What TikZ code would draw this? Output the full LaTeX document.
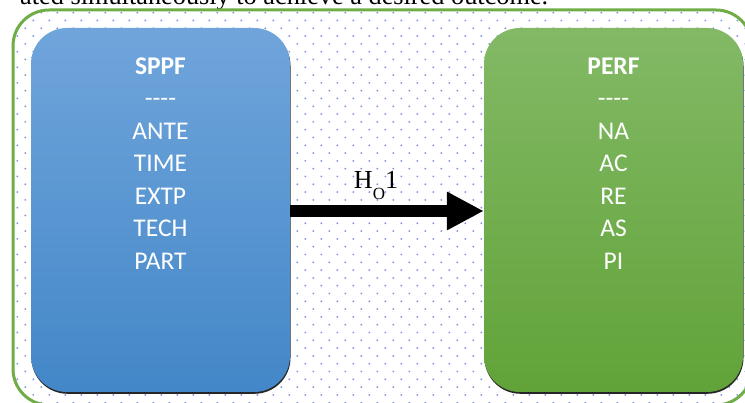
\documentclass[tikz,border=0pt]{standalone}
\usepackage{fontspec}
\setmainfont{Liberation Serif}
\newfontfamily\boxfont{Carlito}
\usetikzlibrary{arrows.meta}
\definecolor{framegreen}{HTML}{70AD47}
\definecolor{dotblue}{HTML}{7F9CD2}
\definecolor{bluetop}{HTML}{70A5DB}
\definecolor{bluebot}{HTML}{4387C8}
\definecolor{greentop}{HTML}{83B966}
\definecolor{greenbot}{HTML}{61A338}
\begin{document}
\begin{tikzpicture}[x=1pt,y=-1pt,
  panel/.style={rectangle, rounded corners=36pt, minimum width=259pt,
    minimum height=364pt, inner sep=0pt, draw=none},
  panelshadow/.style={panel, fill=black!85},
  boxtext/.style={text=white, anchor=base, inner sep=0pt,
    font=\boxfont\fontsize{25.5}{30}\selectfont},
  flow/.style={line width=12pt, -{Triangle[length=37pt,width=36pt]}}]
\useasboundingbox (0,0) rectangle (745,403);
\clip (0,0) rectangle (745,403);

% running text of the page, cut by the page edge
\node[anchor=base west, inner sep=0pt, font=\fontsize{26.3}{30}\selectfont]
  (caption) at (20,5) {ated simultaneously to achieve a desired outcome.};

% dotted frame
\fill[white, rounded corners=36pt] (13,10) rectangle (752,405);
\begin{scope}
  \clip[rounded corners=36pt] (13,10) rectangle (752,405);
  \foreach \i in {0,...,46} {
    \foreach \j in {0,...,25} {
      \fill[dotblue] (9.3+16*\i,12.7+15.6*\j) circle (1.05pt);
      \fill[dotblue] (17.3+16*\i,20.5+15.6*\j) circle (1.05pt);
    }
  }
\end{scope}
\draw[framegreen, line width=3pt, rounded corners=36pt] (13,10) rectangle (752,405);

% the two panels with their soft drop edge
\node[panelshadow] (sppfshade) at (161,211.8) {};
\node[panelshadow] (perfshade) at (614,211.8) {};
\node[panel, top color=bluetop, bottom color=bluebot] (sppf) at (160.5,210) {};
\node[panel, top color=greentop, bottom color=greenbot] (perf) at (613.5,210) {};

% panel contents
\node[boxtext, font=\boxfont\bfseries\fontsize{25.5}{30}\selectfont] (sppf-0) at (160.5,74.3) {SPPF};
\foreach \t [count=\k] in {----,ANTE,TIME,EXTP,TECH,PART}
  \node[boxtext] (sppf-\k) at (160.5,74.3+32.5*\k) {\t};
\node[boxtext, font=\boxfont\bfseries\fontsize{25.5}{30}\selectfont] (perf-0) at (613.5,74.3) {PERF};
\foreach \t [count=\k] in {----,NA,AC,RE,AS,PI}
  \node[boxtext] (perf-\k) at (613.5,74.3+32.5*\k) {\t};

% hypothesis arrow
\draw[flow] ([yshift=-1pt]sppf.east) -- ([yshift=-1pt]perf.west);
\node[anchor=base, inner sep=0pt, font=\fontsize{26}{30}\selectfont] (hyp) at (376,189)
  {H\raisebox{-11pt}{\fontsize{17}{17}\selectfont O}1};
\end{tikzpicture}
\end{document}
